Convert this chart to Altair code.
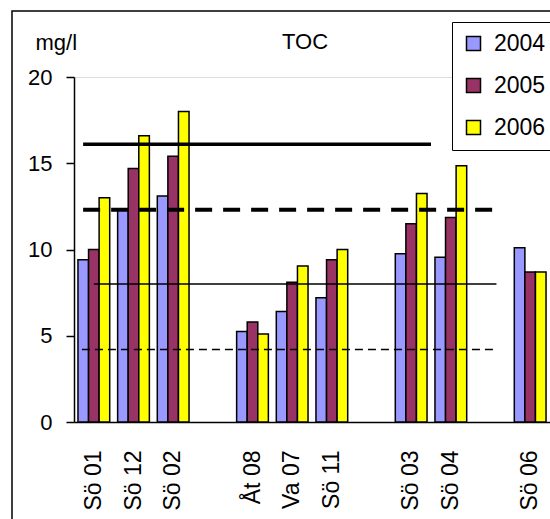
import altair as alt
import pandas as pd

FONT = "Liberation Sans"
FS = 22

# Sampling stations; blank entries are spacer slots between station groups
stations = ["Sö 01", "Sö 12", "Sö 02", " ", "Åt 08", "Va 07", "Sö 11", "  ",
            "Sö 03", "Sö 04", "   ", "Sö 06"]
years = ["2004", "2005", "2006"]
toc_2004 = [9.4, 12.3, 13.1, None, 5.25, 6.4, 7.2, None, 9.75, 9.55, None, 10.1]
toc_2005 = [10.0, 14.7, 15.4, None, 5.8, 8.1, 9.4, None, 11.5, 11.85, None, 8.7]
toc_2006 = [13.0, 16.6, 18.0, None, 5.1, 9.05, 10.0, None, 13.25, 14.85, None, 8.7]
year_colors = ["#9999FF", "#993366", "#FFFF00"]

# Reference levels (mg/l) and their horizontal extent in station-slot units
ref_level = [16.1, 12.3, 8.0, 4.2]
ref_from = [0.23, 0.23, 0.5, 0.2]
ref_to = [9.0, 10.55, 10.65, 10.65]

rows = []
for yr, vals in zip(years, [toc_2004, toc_2005, toc_2006]):
    for st, v in zip(stations, vals):
        if v is not None:
            rows.append({"station": st, "year": yr, "toc": v})
bars_df = pd.DataFrame(rows)

refs_df = pd.DataFrame({"level": ref_level, "x0": ref_from, "x1": ref_to,
                        "idx": list(range(len(ref_level)))})

y_scale = alt.Scale(domain=[0, 20], nice=False)

bars = alt.Chart(bars_df).mark_bar(stroke="black", strokeWidth=1.5).encode(
    x=alt.X("station:N", sort=None,
            scale=alt.Scale(domain=stations, paddingInner=0.2, paddingOuter=0.1),
            axis=alt.Axis(title=None, labelAngle=-90, ticks=False, labelPadding=28,
                          labelFontSize=23, labelFont=FONT, labelColor="black",
                          domainColor="black", domainWidth=1.5)),
    xOffset=alt.XOffset("year:N", scale=alt.Scale(paddingInner=0, paddingOuter=0)),
    y=alt.Y("toc:Q", scale=y_scale,
            axis=alt.Axis(values=[0, 5, 10, 15, 20], grid=False, title="mg/l",
                          titleAngle=0, titleAlign="left", titleBaseline="middle",
                          titleX=-39, titleY=-35, titleFontSize=FS, titleFont=FONT,
                          titleFontWeight="normal", titleColor="black",
                          labelFontSize=FS, labelFont=FONT, labelColor="black",
                          labelPadding=14, tickSize=8, tickColor="black", tickWidth=1.5,
                          domainColor="black", domainWidth=1.5)),
    color=alt.Color("year:N", scale=alt.Scale(domain=years, range=year_colors),
                    legend=alt.Legend(orient="none", legendX=378, legendY=-55, title=None,
                                      symbolType="square", symbolSize=196,
                                      symbolStrokeColor="black", symbolStrokeWidth=1.5,
                                      symbolOpacity=1,
                                      labelFontSize=23, labelFont=FONT, labelColor="black",
                                      labelOffset=9, padding=10, rowPadding=18,
                                      strokeColor="black", fillColor="white")),
)

x_ref = alt.Scale(domain=[0, 12], nice=False, zero=False)
ref_styles = [
    dict(strokeWidth=3.5),
    dict(strokeWidth=4, strokeDash=[17, 11]),
    dict(strokeWidth=1.5),
    dict(strokeWidth=1.5, strokeDash=[8, 5]),
]
refs = []
for i, style in enumerate(ref_styles):
    refs.append(
        alt.Chart(refs_df).transform_filter(alt.datum.idx == i)
        .mark_rule(color="black", **style)
        .encode(x=alt.X("x0:Q", scale=x_ref, axis=None), x2="x1",
                y=alt.Y("level:Q", scale=y_scale))
    )

one = pd.DataFrame({"k": [0]})
title_text = alt.Chart(one).mark_text(text="TOC", fontSize=FS, font=FONT, color="black",
                                      align="center", baseline="middle").encode(
    x=alt.value(231), y=alt.value(-35))

frame = alt.Chart(one).mark_rect(fill="white", fillOpacity=0, stroke="black",
                                 strokeWidth=1.5).encode(
    x=alt.value(-62), x2=alt.value(700), y=alt.value(-66), y2=alt.value(700))

chart = alt.layer(frame, bars, *refs, title_text).resolve_scale(x="independent").properties(
    width=476, height=345, autosize="none",
    padding={"left": 74, "top": 77, "right": 0, "bottom": 97},
).configure_view(stroke=None).configure_legend(strokeWidth=1.5).configure(background="white")

chart.save("out.html", embed_options={"renderer": "svg", "actions": False})
